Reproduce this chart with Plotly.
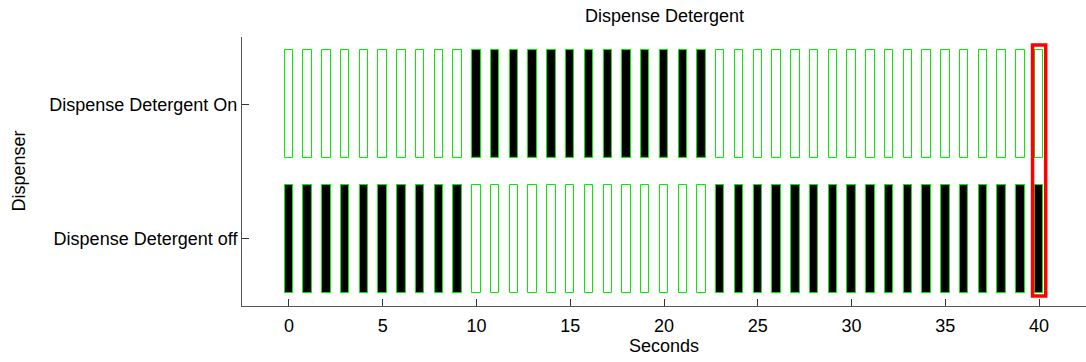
import plotly.graph_objects as go

seconds = list(range(0, 41))
# 1 = active (black bar), 0 = inactive (empty bar)
detergent_on = [0]*10 + [1]*13 + [0]*18
detergent_off = [1]*10 + [0]*13 + [1]*18
row_labels = ["Dispense Detergent off", "Dispense Detergent On"]
row_values = [1, 2]
x_ticks = [0, 5, 10, 15, 20, 25, 30, 35, 40]
highlight_time = 40

BAR_H = 0.8
BAR_W = 0.45

fig = go.Figure()
for yv, states in [(1, detergent_off), (2, detergent_on)]:
    fig.add_trace(go.Bar(
        x=seconds,
        y=[BAR_H]*len(seconds),
        base=[yv - BAR_H/2]*len(seconds),
        width=BAR_W,
        marker=dict(color=["black" if s else "white" for s in states],
                    line=dict(color="#00ee00", width=1)),
        showlegend=False,
        hoverinfo="skip",
    ))

fig.add_shape(type="rect", xref="x", yref="y",
              x0=highlight_time - 0.35, x1=highlight_time + 0.35,
              y0=0.575, y1=2.44,
              line=dict(color="red", width=3.5), layer="above")

font = dict(family="Liberation Sans, Arial, sans-serif", size=18, color="black")

fig.update_layout(
    width=1086, height=362,
    margin=dict(l=242, r=0, t=37, b=56),
    plot_bgcolor="white", paper_bgcolor="white",
    font=font,
    barmode="overlay",
    bargap=0,
    xaxis=dict(range=[-2.5, 42.5], tickvals=x_ticks, ticks="inside", ticklen=7,
               tickcolor="#333", showline=True, linecolor="#555", linewidth=1,
               showgrid=False, zeroline=False, tickfont=font, ticklabelstandoff=3),
    yaxis=dict(range=[0.5, 2.5], tickvals=row_values, ticktext=row_labels,
               ticks="inside", ticklen=7, tickcolor="#333", showline=True,
               linecolor="#555", linewidth=1, showgrid=False, zeroline=False,
               tickfont=font, ticklabelstandoff=0),
    annotations=[
        dict(text="Dispense Detergent", xref="paper", yref="paper", x=0.5,
             y=1, yshift=21, yanchor="middle", showarrow=False, font=font),
        dict(text="Seconds", xref="paper", yref="paper", x=0.5, y=0,
             yshift=-40, yanchor="middle", showarrow=False, font=font),
        dict(text="Dispenser", xref="paper", yref="paper", x=0, xshift=-224,
             xanchor="center", y=0.5, yanchor="middle", textangle=-90,
             showarrow=False, font=font),
    ],
)

fig.write_html("out.html")
